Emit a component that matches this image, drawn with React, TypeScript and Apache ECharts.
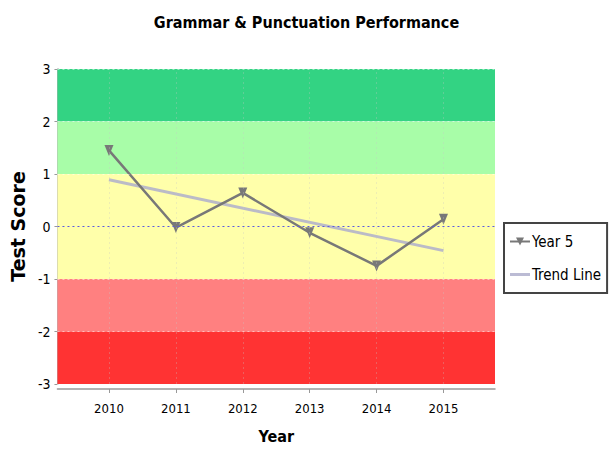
import React, { useEffect, useRef } from "react";
import * as echarts from "echarts";

const years = [2010, 2011, 2012, 2013, 2014, 2015];
const year5 = [1.45, -0.02, 0.64, -0.12, -0.75, 0.14];
const trendYears = [2010, 2015];
const trendValues = [0.89, -0.46];
const yTicks = [-3, -2, -1, 0, 1, 2, 3];
const bandLimits = [
  [2, 3],
  [1, 2],
  [-1, 1],
  [-2, -1],
  [-3, -2],
];
const bandColors = ["#33d383", "#a8fda8", "#ffffaa", "#ff8080", "#ff3333"];

export default function App() {
  const ref = useRef<HTMLDivElement>(null);
  useEffect(() => {
    if (!ref.current) return;
    const chart = echarts.init(ref.current, undefined, { renderer: "svg" });
    const narrow = "'DejaVu Sans Condensed', 'Liberation Sans Narrow', Roboto, sans-serif";
    chart.setOption({
      animation: false,
      title: {
        text: "Grammar & Punctuation Performance",
        left: "center",
        top: 9,
        textStyle: { fontFamily: narrow, fontWeight: "bold", fontSize: 16, color: "#000" },
      },
      legend: {
        orient: "vertical",
        left: 504,
        top: 223,
        data: [
          { name: "Year 5" },
          { name: "Trend Line", icon: "path://M0,0 L20,0 L20,3 L0,3 Z", itemStyle: { color: "rgba(175,175,205,0.85)" } },
        ],
        borderColor: "#444",
        borderWidth: 2,
        padding: [11, 6, 11, 5],
        itemGap: 18,
        itemWidth: 20,
        itemHeight: 10,
        textStyle: { fontFamily: narrow, fontSize: 15, color: "#000", padding: [0, 0, 0, -3] },
      },
      grid: { left: 56, right: 118, top: 69, bottom: 66 },
      xAxis: {
        type: "value",
        min: 2009.23,
        max: 2015.77,
        offset: 5,
        name: "Year",
        nameLocation: "middle",
        nameGap: 39,
        nameTextStyle: { fontFamily: narrow, fontWeight: "bold", fontSize: 16, color: "#000" },
        axisLine: { show: true, onZero: false, lineStyle: { color: "#999", width: 1.5 } },
        axisTick: { show: true, customValues: years, length: 4, lineStyle: { color: "#999" } },
        axisLabel: {
          customValues: years,
          formatter: (v: number) => String(v),
          fontFamily: narrow,
          fontSize: 13,
          color: "#000",
          margin: 13,
        },
        splitLine: { show: false },
      },
      yAxis: {
        type: "value",
        min: -3,
        max: 3,
        interval: 1,
        name: "Test Score",
        nameLocation: "middle",
        nameGap: 23,
        nameRotate: 90,
        nameTextStyle: { fontFamily: "DejaVu Sans", fontWeight: "bold", fontSize: 19, color: "#000" },
        axisLine: { show: true, onZero: false, lineStyle: { color: "#999", width: 1.5 } },
        axisTick: { show: true, length: 3, lineStyle: { color: "#999" } },
        axisLabel: { fontFamily: narrow, fontSize: 14, color: "#000", margin: 7 },
        splitLine: { show: false },
      },
      series: [
        {
          name: "bands",
          type: "line",
          data: [],
          silent: true,
          z: 0,
          markArea: {
            silent: true,
            data: bandLimits.map((b, i) => [
              { yAxis: b[1], itemStyle: { color: bandColors[i] } },
              { yAxis: b[0] },
            ]),
          },
          markLine: {
            silent: true,
            symbol: "none",
            label: { show: false },
            data: [
              { yAxis: 0, lineStyle: { color: "#5a5ae0", type: [2, 3], width: 1 } },
              ...yTicks
                .filter((t) => t !== 0)
                .map((t) => ({ yAxis: t, lineStyle: { color: "rgba(255,255,255,0.5)", type: [2, 3], width: 1 } })),
              ...years.map((y) => ({ xAxis: y, lineStyle: { color: "rgba(200,200,200,0.3)", type: [2, 3], width: 1 } })),
            ],
          },
        },
        {
          name: "Trend Line",
          type: "line",
          z: 2,
          data: trendYears.map((y, i) => [y, trendValues[i]]),
          symbol: "none",
          lineStyle: { color: "rgba(175,175,205,0.85)", width: 3 },
          itemStyle: { color: "rgba(175,175,205,0.85)" },
        },
        {
          name: "Year 5",
          type: "line",
          z: 3,
          data: years.map((y, i) => [y, year5[i]]),
          symbol: "path://M0,0 L10,0 L5,11 Z",
          symbolSize: [9, 11],
          lineStyle: { color: "#787878", width: 2.5 },
          itemStyle: { color: "#787878" },
        },
      ],
    });
    return () => chart.dispose();
  }, []);
  return <div ref={ref} style={{ width: 613, height: 450, position: "absolute", left: 0, top: 0 }} />;
}
